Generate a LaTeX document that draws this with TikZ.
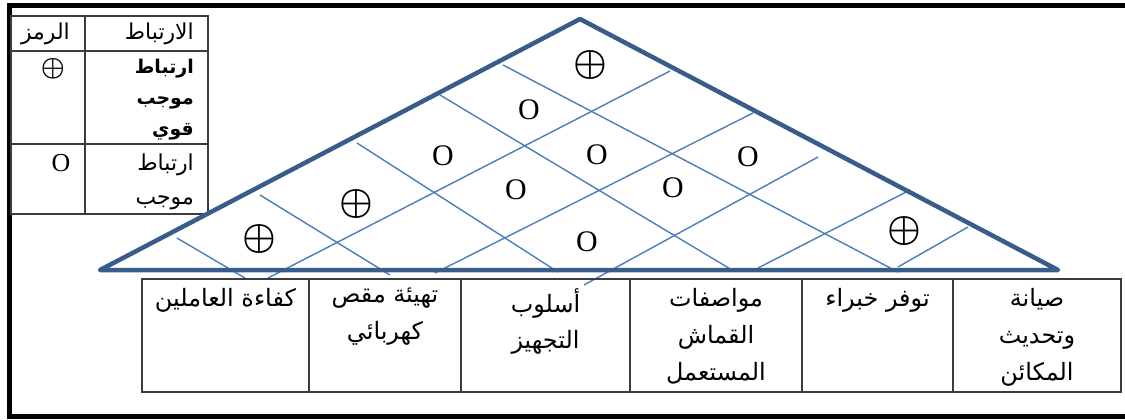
\documentclass[tikz,border=0pt]{standalone}
\usepackage{graphicx}
\usepackage{fontspec}
\setmainfont{Liberation Serif}
\newfontfamily\arabicfont[Script=Arabic]{DejaVu Sans}
\TeXXeTstate=1
\newcommand\ar[1]{\beginR #1\endR}
\newcommand\strongmark[1]{\scalebox{#1}{\boldmath$\oplus$}}
\definecolor{roofedge}{HTML}{385D8A}
\definecolor{roofgrid}{HTML}{4A7EBB}
\definecolor{tablerule}{HTML}{3C3C3C}
\begin{document}
\begin{tikzpicture}[x=1bp,y=-1bp,
  frame/.style={line width=5bp,draw=black},
  roof/.style={draw=roofedge,line width=4.5bp,line join=round,line cap=round},
  gridline/.style={draw=roofgrid,line width=1.4bp},
  cellbox/.style={draw=tablerule,line width=1.1bp,inner sep=0pt,outer sep=0pt,anchor=north west},
  lgtext/.style={font=\arabicfont\fontsize{22}{34}\selectfont,inner sep=0pt,align=right},
  lgbold/.style={font=\arabicfont\bfseries\fontsize{19}{31}\selectfont,inner sep=0pt,align=right},
  celltext/.style={font=\arabicfont\fontsize{24}{37}\selectfont,inner sep=0pt,align=center,anchor=north},
  omark/.style={font=\fontsize{30}{30}\selectfont,inner sep=0pt},
  pmark/.style={inner sep=0pt},
  lgomark/.style={font=\fontsize{26}{26}\selectfont,inner sep=0pt}]
\useasboundingbox (0,0) rectangle (1125,419);

% outer frame (its right side runs off the page)
\begin{scope}
  \clip (0,0) rectangle (1125,419);
  \draw[frame] (1140,5) -- (9,5) -- (9,416) -- (1140,416);
\end{scope}

% legend table
\node[cellbox,minimum width=74bp,minimum height=35bp] (lgSymHead) at (11,16) {};
\node[cellbox,minimum width=123bp,minimum height=35bp] (lgRelHead) at (85,16) {};
\node[cellbox,minimum width=74bp,minimum height=93bp] (lgSymA) at (11,51) {};
\node[cellbox,minimum width=123bp,minimum height=93bp] (lgRelA) at (85,51) {};
\node[cellbox,minimum width=74bp,minimum height=70bp] (lgSymB) at (11,144) {};
\node[cellbox,minimum width=123bp,minimum height=70bp] (lgRelB) at (85,144) {};

\node[lgtext,anchor=east] (tRelHead) at (194,34) {\ar{الارتباط}};
\node[lgtext,anchor=east] (tSymHead) at (70,34) {\ar{الرمز}};
\node[pmark] (tSymA) at (53,69) {\strongmark{2.7}};
\node[lgbold,anchor=north east] (tRelA) at (194,59) {\ar{ارتباط}\\\ar{موجب}\\\ar{قوي}};
\node[lgomark] (tSymB) at (61,163) {O};
\node[lgtext,anchor=north east] (tRelB) at (194,154) {\ar{ارتباط}\\\ar{موجب}};

% correlation roof
\coordinate (roofL) at (100,270);
\coordinate (roofT) at (580,19);
\coordinate (roofR) at (1058,270);

% grid lines running down to the right
\draw[gridline] (177,238) -- (245,278);
\draw[gridline] (260,195) -- (390,275);
\draw[gridline] (357,143) -- (558,272);
\draw[gridline] (440,95) -- (732,270);
\draw[gridline] (503,65) -- (898,272);
% grid lines running down to the left
\draw[gridline] (670,71) -- (268,278);
\draw[gridline] (753,113) -- (435,273);
\draw[gridline] (818,157) -- (584,285);
\draw[gridline] (910,190) -- (758,268);
\draw[gridline] (968,227) -- (898,267);

\draw[roof] (roofL) -- (roofT) -- (roofR) -- cycle;

% correlation marks
\node[pmark] (m1) at (590,65) {\strongmark{3.8}};
\node[omark] (m2) at (529,110) {O};
\node[omark] (m3) at (443,156) {O};
\node[omark] (m4) at (597,155) {O};
\node[omark] (m5) at (748,157) {O};
\node[omark] (m6) at (516,190) {O};
\node[omark] (m7) at (673,188) {O};
\node[pmark] (m8) at (356,204) {\strongmark{3.8}};
\node[pmark] (m9) at (259,239) {\strongmark{3.8}};
\node[omark] (m10) at (587,242) {O};
\node[pmark] (m11) at (904,231) {\strongmark{3.8}};

% requirements row
\node[cellbox,minimum width=167bp,minimum height=113bp] (c1) at (142,279) {};
\node[cellbox,minimum width=152bp,minimum height=113bp] (c2) at (309,279) {};
\node[cellbox,minimum width=169bp,minimum height=113bp] (c3) at (461,279) {};
\node[cellbox,minimum width=172bp,minimum height=113bp] (c4) at (630,279) {};
\node[cellbox,minimum width=151bp,minimum height=113bp] (c5) at (802,279) {};
\node[cellbox,minimum width=168bp,minimum height=113bp] (c6) at (953,279) {};

\node[celltext] (t1) at ([yshift=-9bp]c1.north) {\ar{كفاءة العاملين}};
\node[celltext] (t2) at ([yshift=-9bp]c2.north) {\ar{تهيئة مقص}\\\ar{كهربائي}};
\node[celltext] (t3) at ([yshift=-9bp]c3.north) {\ar{أسلوب}\\\ar{التجهيز}};
\node[celltext] (t4) at ([yshift=-9bp]c4.north) {\ar{مواصفات}\\\ar{القماش}\\\ar{المستعمل}};
\node[celltext] (t5) at ([yshift=-9bp]c5.north) {\ar{توفر خبراء}};
\node[celltext] (t6) at ([yshift=-9bp]c6.north) {\ar{صيانة}\\\ar{وتحديث}\\\ar{المكائن}};
\end{tikzpicture}
\end{document}
